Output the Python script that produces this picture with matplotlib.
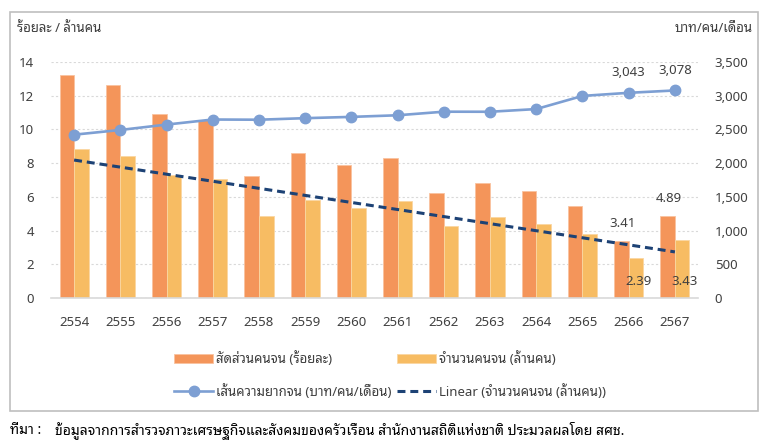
import matplotlib
matplotlib.use("Agg")
import matplotlib.pyplot as plt
import numpy as np
from matplotlib.patches import Rectangle

plt.rcParams["font.family"] = ["Noto Sans", "Noto Sans Thai Looped", "DejaVu Sans"]

# data
years = ["2554", "2555", "2556", "2557", "2558", "2559", "2560",
         "2561", "2562", "2563", "2564", "2565", "2566", "2567"]
poor_ratio = [13.22, 12.64, 10.94, 10.53, 7.21, 8.61, 7.87,
              8.30, 6.24, 6.84, 6.32, 5.43, 3.41, 4.89]          # ร้อยละ
poor_count = [8.81, 8.41, 7.30, 7.06, 4.85, 5.81, 5.32,
              5.75, 4.30, 4.80, 4.40, 3.79, 2.39, 3.43]          # ล้านคน
poverty_line = [2422, 2492, 2572, 2647, 2644, 2667, 2686,
                2710, 2763, 2762, 2802, 2997, 3043, 3078]        # บาท/คน/เดือน

c_ratio = "#F4955A"
c_count = "#F7BC63"
c_line = "#7D9FD3"
c_trend = "#1D4275"
c_grid = "#D9D9D9"
c_text = "#404040"

W, H = 770, 445
fig = plt.figure(figsize=(W / 100, H / 100), dpi=100)
ax = fig.add_axes([51 / W, 1 - 298 / H, 647 / W, 236 / H])
ax2 = ax.twinx()

x = np.arange(len(years))
bw = 0.315
b1 = ax.bar(x - bw / 2, poor_ratio, bw, color=c_ratio, edgecolor="#F9C3A0",
            linewidth=0.6, zorder=2, label="สัดส่วนคนจน (ร้อยละ)")
b2 = ax.bar(x + bw / 2, poor_count, bw, color=c_count, edgecolor="#FAD7A2",
            linewidth=0.6, zorder=2, label="จำนวนคนจน (ล้านคน)")

# linear trend of the number of poor
k, c0 = np.polyfit(x, poor_count, 1)
tr, = ax.plot(x, k * x + c0, color=c_trend, lw=2.2, ls=(0, (2.6, 1.6)),
              zorder=3, label="Linear (จำนวนคนจน (ล้านคน))")

ln, = ax2.plot(x, poverty_line, color=c_line, lw=1.9, marker="o", ms=7.5,
               zorder=4, label="เส้นความยากจน (บาท/คน/เดือน)")

ax.set_xlim(-0.5, len(years) - 0.5)
ax.set_ylim(0, 14)
ax.set_yticks(np.arange(0, 15, 2))
ax2.set_ylim(0, 3500)
ax2.set_yticks(np.arange(0, 3501, 500))
ax2.set_yticklabels([f"{v:,}" for v in range(0, 3501, 500)])
ax.set_xticks(x)
ax.set_xticklabels(years)

ax.grid(axis="y", color=c_grid, ls=(0, (2, 2)), lw=0.8, zorder=0)
ax.set_axisbelow(True)
for a in (ax, ax2):
    for s in a.spines.values():
        s.set_visible(False)
ax.spines["bottom"].set_visible(True)
ax.spines["bottom"].set_color(c_grid)
ax.spines["bottom"].set_linewidth(1.2)
ax.tick_params(axis="x", length=0, pad=13, labelsize=9.5, labelcolor=c_text)
ax.tick_params(axis="y", length=0, pad=12, labelsize=9.5, labelcolor=c_text)
ax2.tick_params(axis="y", length=0, pad=12, labelsize=9.5, labelcolor=c_text)

# data labels
for i in (12, 13):
    ax2.annotate(f"{poverty_line[i]:,}", (x[i], poverty_line[i]),
                 xytext=(0, 14.5), textcoords="offset points",
                 ha="center", va="center", fontsize=9.5, color=c_text)
    ax.annotate(f"{poor_ratio[i]:.2f}", (x[i] - bw / 2, poor_ratio[i]),
                xytext=(1, 12), textcoords="offset points",
                ha="center", va="center", fontsize=9.5, color=c_text)
    ax.annotate(f"{poor_count[i]:.2f}", (x[i] + bw / 2, 0),
                xytext=(1.5, 12), textcoords="offset points",
                ha="center", va="center", fontsize=9.5, color=c_text)

fig.text(17 / W, 1 - 28 / H, "ร้อยละ / ล้านคน", ha="left", va="center",
         fontsize=9.5, color=c_text)
fig.text(753 / W, 1 - 28 / H, "บาท/คน/เดือน", ha="right", va="center",
         fontsize=9.5, color=c_text)

fig.legend(handles=[b1, ln, b2, tr], ncol=2, frameon=False,
           loc="center", bbox_to_anchor=(390 / W, 1 - 375 / H),
           fontsize=9.5, handlelength=3.0, handletextpad=0.2,
           columnspacing=0.4, labelspacing=1.3, labelcolor=c_text)

# chart frame
fig.patches.append(Rectangle((10 / W, 1 - 411 / H), 748 / W, 399 / H,
                             transform=fig.transFigure, fill=False,
                             edgecolor="#BFBFBF", lw=1.2))

fig.text(10 / W, 1 - 430 / H, "ที่มา :", ha="left", va="center",
         fontsize=10, color="black")
fig.text(55 / W, 1 - 430 / H,
         "ข้อมูลจากการสำรวจภาวะเศรษฐกิจและสังคมของครัวเรือน "
         "สำนักงานสถิติแห่งชาติ ประมวลผลโดย สศช.",
         ha="left", va="center", fontsize=10, color="black")

fig.savefig("out.png", dpi=100)
plt.close(fig)
